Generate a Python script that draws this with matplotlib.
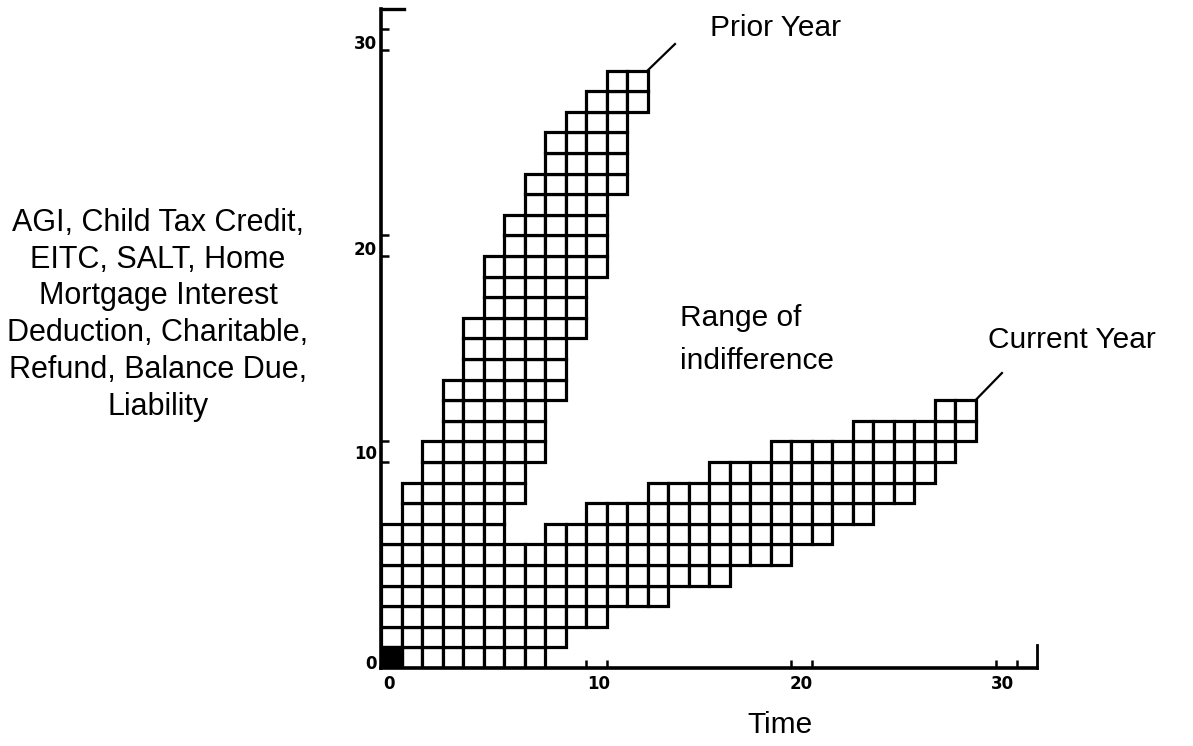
import matplotlib
matplotlib.use("Agg")
import matplotlib.pyplot as plt
from matplotlib import font_manager

# ---- data (one unit = one cell) ----
columns = list(range(29))
# "Current Year" band (columns 0-5 are shared with the Prior Year band)
current_bottom = [0, 0, 0, 0, 0, 0, 0, 0, 1, 2, 2, 3, 3, 3, 4, 4, 4, 5, 5, 5, 6, 6, 7, 7, 8, 8, 9, 10, 11]
current_top = [7, 9, 11, 14, 17, 20, 6, 6, 7, 7, 8, 8, 8, 9, 9, 9, 10, 10, 10, 11, 11, 11, 11, 12, 12, 12, 12, 13, 13]
# "Prior Year" band
prior_cols = [6, 7, 8, 9, 10, 11, 12]
prior_bottom = [8, 10, 13, 16, 19, 23, 27]
prior_top = [22, 24, 26, 27, 28, 29, 29]
# filled origin cell
origin_col, origin_row = 0, 0

x_tick_marks = [10, 11, 20, 21, 30, 31]
y_tick_marks = [10, 11, 20, 21, 30, 31]
x_label_pos = [0.4, 10.6, 20.5, 30.3]
x_labels = ["0", "10", "20", "30"]
y_label_pos = [0.3, 10.5, 20.4, 30.4]
y_labels = ["0", "10", "20", "30"]

ylabel_text = ("AGI, Child Tax Credit,\nEITC, SALT, Home\nMortgage Interest\n"
               "Deduction, Charitable,\nRefund, Balance Due,\nLiability")

# ---- fonts ----
names = {f.name for f in font_manager.fontManager.ttflist}
narrow = "Liberation Sans Narrow" if "Liberation Sans Narrow" in names else "DejaVu Sans"
main_font = "Liberation Sans"

W, H = 1193, 746
fig = plt.figure(figsize=(W / 100, H / 100), dpi=100)
# plot area: x 0..32 -> px 381..1037, y 0..32 -> px 668..9
ax = fig.add_axes([381 / W, (H - 668) / H, 32 * 20.5 / W, 32 * 20.6 / H])
ax.set_xlim(0, 32)
ax.set_ylim(0, 32)
ax.patch.set_alpha(0)

# ---- cells ----
xs, ys = [], []
for c, b, t in zip(columns, current_bottom, current_top):
    for r in range(b, t):
        xs.append(c)
        ys.append(r)
for c, b, t in zip(prior_cols, prior_bottom, prior_top):
    for r in range(b, t):
        xs.append(c)
        ys.append(r)
ax.bar(xs, 1, bottom=ys, width=1, align="edge", color="white",
       edgecolor="black", linewidth=2.3, zorder=2)
ax.bar([origin_col], 1, bottom=[origin_row], width=1, align="edge",
       color="black", edgecolor="black", linewidth=2.3, zorder=3)

# ---- axes styling ----
for s in ["top", "right"]:
    ax.spines[s].set_visible(False)
for s in ["left", "bottom"]:
    ax.spines[s].set_linewidth(2.6)
    ax.spines[s].set_zorder(4)
ax.plot([0, 1.1], [32, 32], color="black", lw=2.4, clip_on=False, zorder=4)
ax.plot([32, 32], [0, 1.1], color="black", lw=2.0, clip_on=False, zorder=4)

ax.set_xticks(x_tick_marks)
ax.set_yticks(y_tick_marks)
ax.set_xticklabels([])
ax.set_yticklabels([])
ax.tick_params(axis="both", which="major", direction="in", length=6, width=1.8)
ax.set_xticks(x_label_pos, minor=True)
ax.set_xticklabels(x_labels, minor=True)
ax.set_yticks(y_label_pos, minor=True)
ax.set_yticklabels(y_labels, minor=True)
ax.tick_params(axis="x", which="minor", length=0, pad=5)
ax.tick_params(axis="y", which="minor", length=0, pad=3)
for lab in ax.get_xticklabels(minor=True) + ax.get_yticklabels(minor=True):
    lab.set_fontfamily(narrow)
    lab.set_fontweight("bold")
    lab.set_fontsize(12)

# ---- annotations ----
tkw = dict(fontfamily=main_font, color="black")
ax.plot([13, 14.34], [29, 30.29], color="black", lw=1.6, clip_on=False)
ax.plot([29, 30.29], [13, 14.32], color="black", lw=1.6, clip_on=False)
ax.text(16.05, 31.07, "Prior Year", ha="left", va="center", fontsize=21.5, **tkw)
ax.text(29.6, 15.92, "Current Year", ha="left", va="center", fontsize=21.5, **tkw)
ax.text(14.59, 15.95, "Range of\nindifference", ha="left", va="center",
        multialignment="left", linespacing=1.7, fontsize=21.5, **tkw)
ax.text(-10.88, 17.14, ylabel_text, ha="center", va="center",
        multialignment="center", linespacing=1.3, fontsize=22, **tkw)
ax.text(19.46, -2.77, "Time", ha="center", va="center", fontsize=21.5, **tkw)

fig.savefig("out.png", dpi=100)
